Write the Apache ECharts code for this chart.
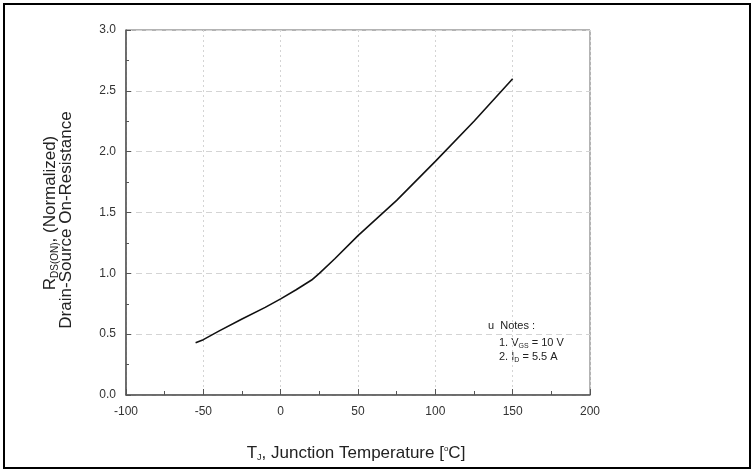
<!DOCTYPE html>
<html>
<head>
<meta charset="utf-8">
<script src="https://cdn.jsdelivr.net/npm/echarts@6/dist/echarts.min.js"></script>
<style>
  html, body { margin: 0; padding: 0; background: #fff; }
  #chart { width: 755px; height: 473px; }
</style>
</head>
<body>
<div id="chart"></div>
<script>
var temps  = [-55, -50, -40, -25, -10, 0, 10, 20, 25, 35, 50, 75, 100, 125, 150];
var rdsOn  = [0.43, 0.455, 0.525, 0.625, 0.72, 0.79, 0.865, 0.945, 1.0, 1.12, 1.31, 1.60, 1.92, 2.25, 2.60];
var xTicks = [-100, 200, 50];   // min, max, step
var yTicks = [0, 3, 0.5];

var font = 'Liberation Sans, Arial, sans-serif';
var chart = echarts.init(document.getElementById('chart'));

var option = {
    animation: false,
    backgroundColor: '#fff',
    grid: {
        left: 126, right: 165, top: 30, bottom: 78,
        show: true, borderColor: '#666', borderWidth: 1
    },
    xAxis: {
        type: 'value',
        min: xTicks[0], max: xTicks[1], interval: xTicks[2],
        axisLine: {onZero: false, lineStyle: {color: '#555', width: 1.5}},
        axisTick: {inside: true, length: 6, lineStyle: {color: '#555'}},
        minorTick: {show: true, splitNumber: 2, length: 4, lineStyle: {color: '#555'}},
        axisLabel: {color: '#333', fontSize: 12, fontFamily: font, margin: 11},
        splitLine: {show: true, lineStyle: {color: '#d4d4d4', type: [2, 3]}}
    },
    yAxis: {
        type: 'value',
        min: yTicks[0], max: yTicks[1], interval: yTicks[2],
        axisLine: {show: true, onZero: false, lineStyle: {color: '#555', width: 1.5}},
        axisTick: {show: true, inside: true, length: 5, lineStyle: {color: '#555'}},
        minorTick: {show: true, splitNumber: 2, length: 3, lineStyle: {color: '#555'}},
        axisLabel: {color: '#333', fontSize: 12, fontFamily: font, margin: 10,
                    formatter: function (v) { return v.toFixed(1); }},
        splitLine: {show: true, lineStyle: {color: '#d4d4d4', type: [6, 4]}}
    },
    series: [{
        type: 'line',
        data: temps.map(function (t, i) { return [t, rdsOn[i]]; }),
        showSymbol: false,
        smooth: false,
        lineStyle: {color: '#111', width: 1.6}
    }],
    graphic: [
        // outer frame
        {type: 'rect', shape: {x: 4, y: 4, width: 746, height: 464},
         style: {fill: null, stroke: '#000', lineWidth: 2}},
        // y axis title, two lines
        {type: 'text', x: 50, y: 213, rotation: Math.PI / 2,
         style: {text: '{r|R}{s|DS(ON)}{r|, (Normalized)}', align: 'center', verticalAlign: 'middle',
                 rich: {r: {fontSize: 17, fontFamily: font, fill: '#222'},
                        s: {fontSize: 10, fontFamily: font, fill: '#222', padding: [10, 0, 0, 0]}}}},
        {type: 'text', x: 66, y: 220, rotation: Math.PI / 2,
         style: {text: 'Drain-Source On-Resistance', align: 'center', verticalAlign: 'middle',
                 fontSize: 17, fontFamily: font, fill: '#222'}},
        // x axis title
        {type: 'text', x: 356, y: 453,
         style: {text: '{r|T}{s|J}{r|, Junction Temperature [}{o|o}{r|C]}', align: 'center', verticalAlign: 'middle',
                 rich: {r: {fontSize: 17, fontFamily: font, fill: '#222'},
                        s: {fontSize: 9, fontFamily: font, fill: '#222', padding: [10, 0, 0, 0]},
                        o: {fontSize: 8, fontFamily: font, fill: '#222', padding: [0, 0, 9, 0]}}}},
        // notes
        {type: 'text', x: 488, y: 326,
         style: {text: 'u  Notes :', verticalAlign: 'middle', fontSize: 11, fontFamily: font, fill: '#222'}},
        {type: 'text', x: 499, y: 343,
         style: {text: '{r|1. V}{s|GS}{r| = 10 V}', verticalAlign: 'middle',
                 rich: {r: {fontSize: 11, fontFamily: font, fill: '#222'},
                        s: {fontSize: 7, fontFamily: font, fill: '#222', padding: [6, 0, 0, 0]}}}},
        {type: 'text', x: 499, y: 357,
         style: {text: '{r|2. I}{s|D}{r| = 5.5 A}', verticalAlign: 'middle',
                 rich: {r: {fontSize: 11, fontFamily: font, fill: '#222'},
                        s: {fontSize: 7, fontFamily: font, fill: '#222', padding: [6, 0, 0, 0]}}}}
    ]
};
chart.setOption(option);
</script>
</body>
</html>
